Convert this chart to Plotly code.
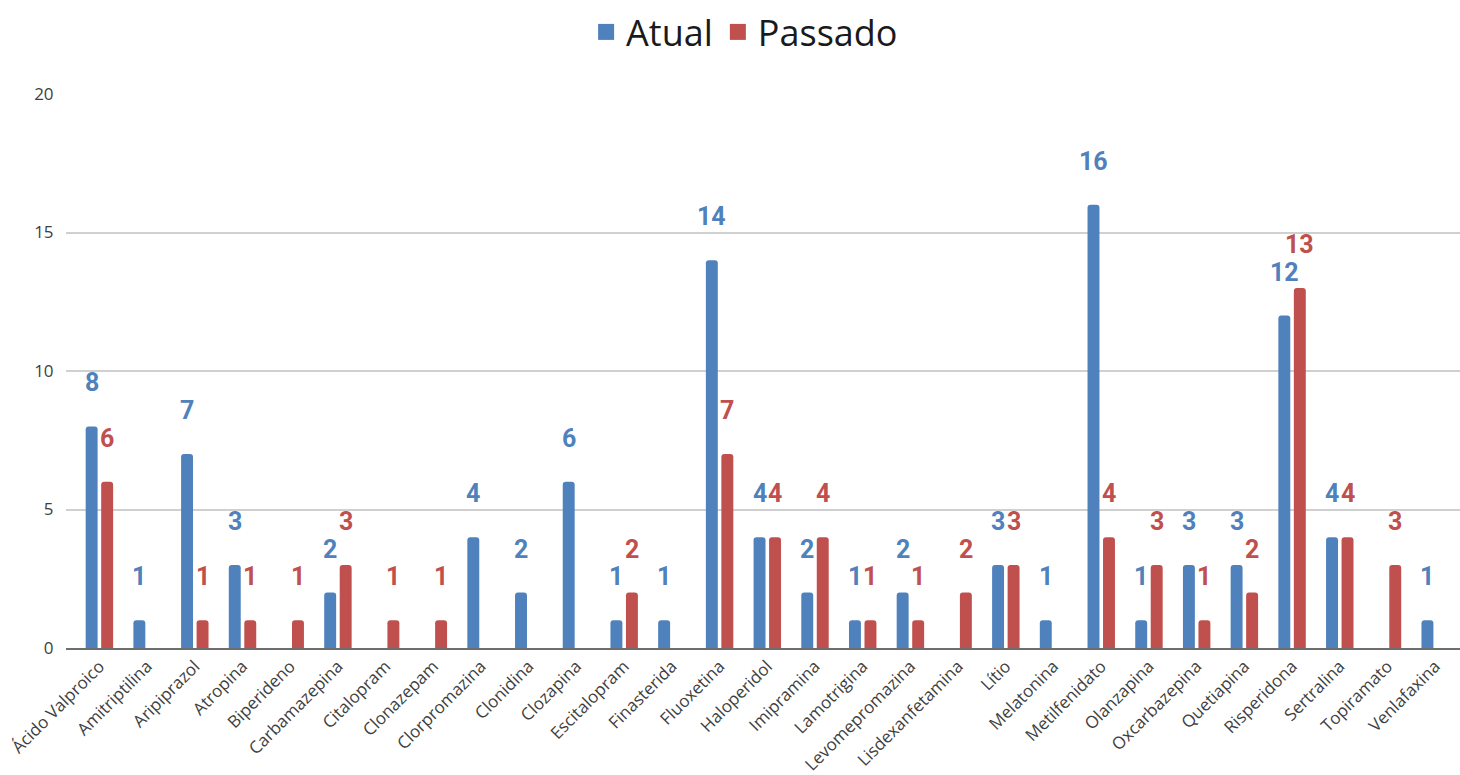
import plotly.graph_objects as go

medicamentos = [
    "Ácido Valproico", "Amitriptilina", "Aripiprazol", "Atropina", "Biperideno",
    "Carbamazepina", "Citalopram", "Clonazepam", "Clorpromazina", "Clonidina",
    "Clozapina", "Escitalopram", "Finasterida", "Fluoxetina", "Haloperidol",
    "Imipramina", "Lamotrigina", "Levomepromazina", "Lisdexanfetamina", "Lítio",
    "Melatonina", "Metilfenidato", "Olanzapina", "Oxcarbazepina", "Quetiapina",
    "Risperidona", "Sertralina", "Topiramato", "Venlafaxina",
]
atual = [8, 1, 7, 3, None, 2, None, None, 4, 2, 6, 1, 1, 14, 4, 2, 1, 2, None, 3,
         1, 16, 1, 3, 3, 12, 4, None, 1]
passado = [6, None, 1, 1, 1, 3, 1, 1, None, None, None, 2, None, 7, 4, 4, 1, 1, 2, 3,
           None, 4, 3, 1, 2, 13, 4, 3, None]

AZUL = "#4f81bd"
VERMELHO = "#c0504d"
FONTE_EIXO = "Open Sans, Noto Sans, sans-serif"

fig = go.Figure()
for nome, valores, cor in [("Atual", atual, AZUL), ("Passado", passado, VERMELHO)]:
    fig.add_trace(go.Bar(
        name=nome, x=medicamentos, y=valores, marker_color=cor,
        marker_line_width=0, showlegend=False,
    ))
    # legend entry with a larger square swatch
    fig.add_trace(go.Scatter(
        name=nome, x=[None], y=[None], mode="markers",
        marker=dict(symbol="square", size=16, color=cor),
    ))

# value labels above each bar
desloc = 0.1625
anotacoes = []
for i, (a, p) in enumerate(zip(atual, passado)):
    for v, dx, cor in [(a, -desloc, AZUL), (p, desloc, VERMELHO)]:
        if v is None:
            continue
        anotacoes.append(dict(
            x=i + dx, y=v, xref="x", yref="y", text=str(v), showarrow=False,
            yanchor="bottom", xanchor="center", yshift=27,
            font=dict(family="Roboto, sans-serif", size=25, color=cor, weight="bold"),
        ))

fig.update_layout(
    width=1460, height=775,
    margin=dict(l=66, r=0, t=94, b=127),
    paper_bgcolor="white", plot_bgcolor="white",
    barmode="group", bargap=0.35, bargroupgap=0.23, barcornerradius=3,
    annotations=anotacoes,
    legend=dict(
        orientation="h", xref="container", yref="container",
        x=0.51, xanchor="center", y=1 - 32 / 775, yanchor="middle",
        font=dict(family=FONTE_EIXO, size=36, color="#1a1a1a"),
        itemsizing="trace", entrywidth=0, tracegroupgap=0,
    ),
    xaxis=dict(
        type="category", range=[-0.70, 28.52], tickangle=-45, automargin=False,
        showline=True, linecolor="#6e6e6e", linewidth=1.5,
        showgrid=False, ticks="",
        tickfont=dict(family=FONTE_EIXO, size=17, color="#404040"),
    ),
    yaxis=dict(
        range=[0, 20], tickvals=[0, 5, 10, 15, 20], automargin=False,
        showgrid=True, gridcolor="#d0d0d0", gridwidth=1.5,
        zeroline=False, ticks="outside", ticklen=8, tickcolor="rgba(0,0,0,0)",
        tickfont=dict(family=FONTE_EIXO, size=17, color="#404040"),
    ),
)

fig.write_html("out.html")
